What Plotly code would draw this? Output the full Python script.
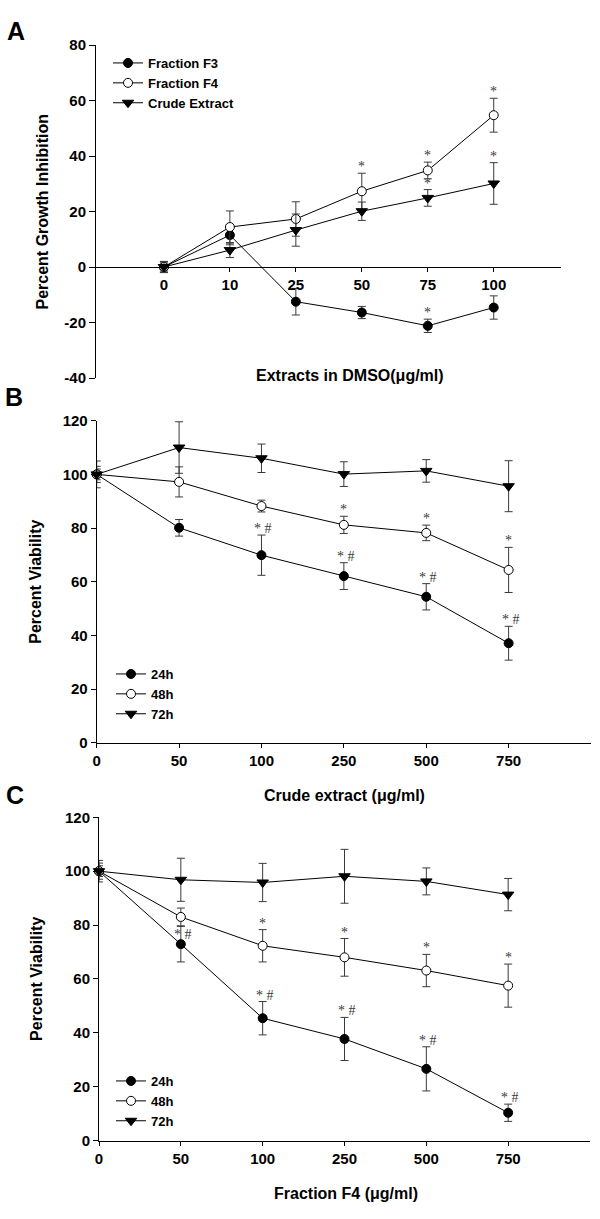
import plotly.graph_objects as go

W, H = 600, 1219

# panel A: growth inhibition of the extracts in DMSO
a_conc = ["0", "10", "25", "50", "75", "100"]
a_f3 = [0, 11.5, -12.5, -16.4, -21.2, -14.6]
a_f3_err = [2.0, 3.5, 4.8, 2.2, 2.4, 4.2]
a_f3_sig = ["", "", "", "", "*", ""]
a_f4 = [0, 14.4, 17.3, 27.3, 34.8, 54.7]
a_f4_err = [1.5, 5.8, 6.2, 6.5, 3.0, 6.1]
a_f4_sig = ["", "", "", "*", "*", "*"]
a_crude = [0, 6.1, 13.3, 20.1, 24.9, 30.1]
a_crude_err = [2.0, 2.7, 5.8, 3.3, 3.0, 7.5]
a_crude_sig = ["", "", "", "", "*", "*"]
a_yticks = [-40, -20, 0, 20, 40, 60, 80]
a_yticklabels = ["-40", "-20", "0", "20", "40", "60", "80"]

# panel B: viability vs crude extract
b_conc = ["0", "50", "100", "250", "500", "750"]
b_24 = [100, 80.1, 69.9, 62.1, 54.4, 37.1]
b_24_err = [2.0, 3.1, 7.5, 5.0, 4.9, 6.3]
b_24_sig = ["", "", "* #", "* #", "* #", "* #"]
b_48 = [100, 97.2, 88.2, 81.2, 78.2, 64.4]
b_48_err = [3.0, 5.6, 2.2, 3.2, 2.9, 8.4]
b_48_sig = ["", "", "", "*", "*", "*"]
b_72 = [100, 110.0, 106.0, 100.1, 101.3, 95.6]
b_72_err = [5.0, 9.6, 5.3, 4.6, 4.2, 9.5]
b_72_sig = ["", "", "", "", "", ""]

# panel C: viability vs fraction F4
c_conc = ["0", "50", "100", "250", "500", "750"]
c_24 = [100, 72.9, 45.4, 37.7, 26.6, 10.3]
c_24_err = [2.0, 6.6, 6.2, 8.0, 8.2, 3.2]
c_24_sig = ["", "* #", "* #", "* #", "* #", "* #"]
c_48 = [100, 83.0, 72.3, 68.0, 63.1, 57.5]
c_48_err = [3.0, 3.3, 6.0, 7.0, 6.0, 8.0]
c_48_sig = ["", "", "*", "*", "*", "*"]
c_72 = [100, 96.8, 95.8, 98.1, 96.2, 91.3]
c_72_err = [4.0, 8.0, 7.1, 10.0, 5.0, 6.0]
c_72_sig = ["", "", "", "", "", ""]

SANS = "Liberation Sans, Arial, sans-serif"
SERIF = "Liberation Serif, Times New Roman, serif"
ERR = "#3a3a3a"


def px_x(px):
    return px / W


def px_y(py):
    return 1 - py / H


fig = go.Figure()
annotations = []


def series(x, y, err, sig, name, symbol, fill, xa, ya, legend, nudge=None):
    size = 10 if symbol == "triangle-down" else 9
    fig.add_trace(
        go.Scatter(
            x=x,
            y=y,
            name=name,
            mode="lines+markers",
            xaxis=xa,
            yaxis=ya,
            legend=legend,
            cliponaxis=False,
            line={"color": "black", "width": 1},
            marker={"symbol": symbol, "size": size, "color": fill,
                    "line": {"color": "black", "width": 1}},
            error_y={"type": "data", "array": err, "color": ERR,
                     "thickness": 1, "width": 4},
        )
    )
    # significance marks sit just above the upper error cap (category serial number as x)
    nudge = nudge or {}
    for i, (yi, ei, s) in enumerate(zip(y, err, sig)):
        if s:
            annotations.append(dict(
                x=i, y=yi + ei, xref=xa, yref=ya, text=s, showarrow=False,
                yanchor="bottom", yshift=-3 + nudge.get(i, 0), xshift=2 if "#" in s else 0,
                font={"family": SERIF, "size": 14, "color": ERR},
            ))


series(a_conc, a_f3, a_f3_err, a_f3_sig, "Fraction F3", "circle", "black", "x", "y", "legend")
series(a_conc, a_f4, a_f4_err, a_f4_sig, "Fraction F4", "circle", "white", "x", "y", "legend")
series(a_conc, a_crude, a_crude_err, a_crude_sig, "Crude Extract", "triangle-down", "black", "x", "y", "legend")

series(b_conc, b_24, b_24_err, b_24_sig, "24h", "circle", "black", "x2", "y2", "legend2")
series(b_conc, b_48, b_48_err, b_48_sig, "48h", "circle", "white", "x2", "y2", "legend2")
series(b_conc, b_72, b_72_err, b_72_sig, "72h", "triangle-down", "black", "x2", "y2", "legend2")

# the 50 µg/ml mark is drawn lower, over its own error bar, clear of the 48h circle
series(c_conc, c_24, c_24_err, c_24_sig, "24h", "circle", "black", "x3", "y3", "legend3", nudge={1: -15})
series(c_conc, c_48, c_48_err, c_48_sig, "48h", "circle", "white", "x3", "y3", "legend3")
series(c_conc, c_72, c_72_err, c_72_sig, "72h", "triangle-down", "black", "x3", "y3", "legend3")

tick_font = {"family": SANS, "size": 15, "color": "black", "weight": "bold"}
axis_common = dict(
    showline=True, linecolor="black", linewidth=1, showgrid=False, zeroline=False,
    ticks="outside", tickcolor="black", tickwidth=1, tickfont=tick_font,
    automargin=False,
)

# panel geometry in pixels
a_dom_x, a_dom_y = (96, 561), (378, 45)
b_dom_x, b_dom_y = (96.7, 591), (742.8, 420.7)
c_dom_x, c_dom_y = (99, 590), (1140.5, 817.3)
a_zero_y = 267

fig.update_layout(
    xaxis=dict(**axis_common, type="category", categoryarray=a_conc, range=[-1.03, 6.02],
               domain=[px_x(a_dom_x[0]), px_x(a_dom_x[1])], anchor="free",
               position=px_y(a_zero_y), ticklen=4),
    yaxis=dict(**axis_common, range=[-40, 80], tickvals=a_yticks, ticktext=a_yticklabels,
               ticklen=6, domain=[px_y(a_dom_y[0]), px_y(a_dom_y[1])], anchor="x"),
    xaxis2=dict(**axis_common, type="category", categoryarray=b_conc, range=[0, 6],
                domain=[px_x(b_dom_x[0]), px_x(b_dom_x[1])], anchor="y2", ticklen=4),
    yaxis2=dict(**axis_common, range=[0, 120], dtick=20, ticklen=5,
                domain=[px_y(b_dom_y[0]), px_y(b_dom_y[1])], anchor="x2"),
    xaxis3=dict(**axis_common, type="category", categoryarray=c_conc, range=[0, 6],
                domain=[px_x(c_dom_x[0]), px_x(c_dom_x[1])], anchor="y3", ticklen=4),
    yaxis3=dict(**axis_common, range=[0, 120], dtick=20, ticklen=5,
                domain=[px_y(c_dom_y[0]), px_y(c_dom_y[1])], anchor="x3"),
)

legend_common = dict(
    xanchor="left", yanchor="top", bgcolor="rgba(0,0,0,0)", borderwidth=0,
    itemwidth=30, font={"family": SANS, "size": 13, "color": "black", "weight": "bold"},
)
fig.update_layout(
    legend=dict(**legend_common, x=px_x(108), y=px_y(48)),
    legend2=dict(**legend_common, x=px_x(111), y=px_y(659)),
    legend3=dict(**legend_common, x=px_x(111), y=px_y(1066)),
)

title_font = {"family": SANS, "size": 16, "color": "black", "weight": "bold"}
labels = [
    ("Percent Growth Inhibition", 42, (a_dom_y[0] + a_dom_y[1]) / 2, -90),
    ("Extracts in DMSO(μg/ml)", 350, 376, 0),
    ("Percent Viability", 36, (b_dom_y[0] + b_dom_y[1]) / 2, -90),
    ("Crude extract (μg/ml)", 344, 795, 0),
    ("Percent Viability", 37, (c_dom_y[0] + c_dom_y[1]) / 2, -90),
    ("Fraction F4 (μg/ml)", 346, 1193, 0),
]
for text, x, y, angle in labels:
    annotations.append(dict(
        text=text, x=px_x(x), y=px_y(y), xref="paper", yref="paper",
        showarrow=False, textangle=angle, font=title_font,
        xanchor="center", yanchor="middle",
    ))
for letter, x, y in [("A", 16, 31), ("B", 14, 397), ("C", 15, 795)]:
    annotations.append(dict(
        text=letter, x=px_x(x), y=px_y(y), xref="paper", yref="paper",
        showarrow=False, xanchor="center", yanchor="middle",
        font={"family": SANS, "size": 25, "color": "black", "weight": "bold"},
    ))

fig.update_layout(
    width=W, height=H, margin=dict(l=0, r=0, t=0, b=0, autoexpand=False),
    paper_bgcolor="white", plot_bgcolor="white",
    annotations=annotations, showlegend=True,
)

# drop the browser's default 8px body margin so the figure sits at the page origin
fig.write_html(
    "out.html",
    config={"displayModeBar": False},
    post_script="document.body.style.margin = '0px';",
)
